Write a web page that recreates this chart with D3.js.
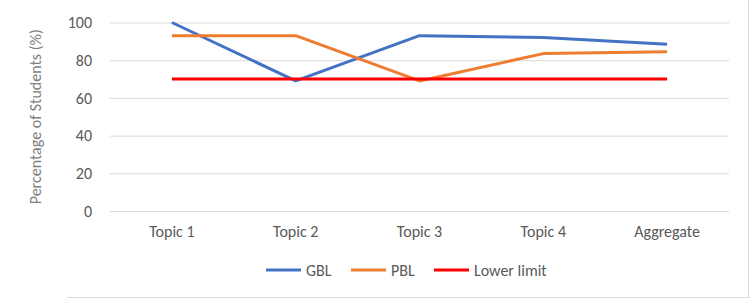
<!DOCTYPE html>
<html>
<head>
<meta charset="utf-8">
<script src="https://cdn.jsdelivr.net/npm/d3@7"></script>
<style>
  body { margin: 0; background: #fff; }
  svg text { font-family: Carlito, "Liberation Sans", Arial, sans-serif; }
</style>
</head>
<body>
<div id="chart"></div>
<script>
const topics = ['Topic 1', 'Topic 2', 'Topic 3', 'Topic 4', 'Aggregate']
const gbl = [100, 69, 93, 92, 88.5]
const pbl = [93, 93, 69, 83.5, 84.5]
const lowerLimit = [70, 70, 70, 70, 70]
const yTicks = [0, 20, 40, 60, 80, 100]
const seriesNames = ['GBL', 'PBL', 'Lower limit']

const W = 750, H = 298
const margin = {top: 22.5, left: 110, right: 21, bottom: 87}
const width = W - margin.left - margin.right
const height = H - margin.top - margin.bottom

const svg = d3.select('#chart').append('svg')
  .attr('width', W)
  .attr('height', H)

// outer frame (only right + bottom visible in the crop)
svg.append('line').attr('x1', 67).attr('x2', W).attr('y1', H - 0.5).attr('y2', H - 0.5)
  .attr('stroke', '#d9d9d9').attr('stroke-width', 1)
svg.append('line').attr('x1', W - 1.5).attr('x2', W - 1.5).attr('y1', 0).attr('y2', H)
  .attr('stroke', '#d9d9d9').attr('stroke-width', 1)

const g = svg.append('g')
  .attr('transform', 'translate(' + margin.left + ',' + margin.top + ')')

const x = d3.scaleBand().domain(topics).range([0, width])
const y = d3.scaleLinear().domain([0, 100]).range([height, 0])
const cx = d => x(d) + x.bandwidth() / 2

// gridlines
g.append('g')
  .call(d3.axisLeft(y).tickValues(yTicks).tickSize(-width).tickPadding(18))
  .call(ax => ax.select('.domain').remove())
  .call(ax => ax.selectAll('line').attr('stroke', '#d9d9d9'))
  .call(ax => ax.selectAll('text')
    .attr('fill', '#595959').style('font-size', '16px'))

// category labels
g.append('g')
  .attr('transform', 'translate(0,' + height + ')')
  .call(d3.axisBottom(x).tickSize(0).tickPadding(15))
  .call(ax => ax.select('.domain').remove())
  .call(ax => ax.selectAll('text')
    .attr('fill', '#595959').style('font-size', '16px'))

// y axis title
svg.append('text')
  .attr('transform', 'translate(41,' + (margin.top + height / 2) + ') rotate(-90)')
  .attr('text-anchor', 'middle')
  .attr('fill', '#7f7f7f')
  .style('font-size', '16px')
  .text('Percentage of Students (%)')

const colors = ['#4472C4', '#ED7D31', '#FF0000']
const allSeries = [gbl, pbl, lowerLimit]

const line = d3.line()
  .x((d, i) => cx(topics[i]))
  .y(d => y(d))

allSeries.forEach((s, i) => {
  g.append('path')
    .datum(s)
    .attr('fill', 'none')
    .attr('stroke', colors[i])
    .attr('stroke-width', 3)
    .attr('stroke-linejoin', 'round')
    .attr('d', line)
})

// legend
const legendX = [266, 351, 434]
const leg = svg.append('g').attr('transform', 'translate(0,270)')
seriesNames.forEach((name, i) => {
  leg.append('line')
    .attr('x1', legendX[i]).attr('x2', legendX[i] + 35)
    .attr('y1', 0).attr('y2', 0)
    .attr('stroke', colors[i]).attr('stroke-width', 3)
  leg.append('text')
    .attr('x', legendX[i] + 40).attr('y', 5.5)
    .attr('fill', '#595959')
    .style('font-size', '16px')
    .text(name)
})
</script>
</body>
</html>
